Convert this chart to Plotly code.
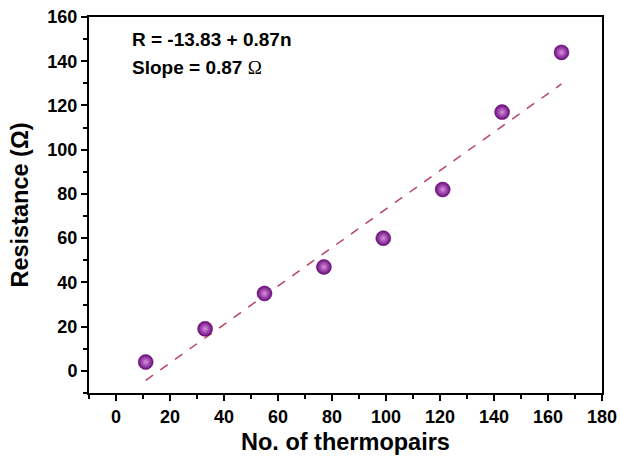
import plotly.graph_objects as go

thermopairs = [11, 33, 55, 77, 99, 121, 143, 165]
resistance = [4, 19, 35, 47, 60, 82, 117, 144]
intercept = -13.83
slope = 0.87
fit_x = [thermopairs[0], thermopairs[-1]]
fit_y = [intercept + slope * v for v in fit_x]

FONT = "Liberation Sans, Arial, sans-serif"

fig = go.Figure()
fig.add_trace(go.Scatter(
    x=fit_x, y=fit_y, mode="lines",
    line=dict(color="#b8465e", width=1.5, dash="dash"),
    showlegend=False, hoverinfo="skip"))
fig.add_trace(go.Scatter(
    x=thermopairs, y=resistance, mode="markers",
    marker=dict(size=15, color="#6a0a7c",
                gradient=dict(type="radial", color="#d890e0"),
                line=dict(width=0.5, color="#5a0468")),
    showlegend=False))

axis_common = dict(
    showline=True, linecolor="black", linewidth=2, mirror=True,
    ticks="outside", ticklen=6, tickwidth=2, tickcolor="black",
    showgrid=False, zeroline=False, ticklabeloverflow="allow",
    automargin=False,
    tickfont=dict(family=FONT, size=18, color="black", weight="bold"),
    minor=dict(ticks="outside", ticklen=4, tickwidth=2, tickcolor="black"),
)

fig.update_xaxes(range=[-10, 180], tickvals=list(range(0, 181, 20)),
                 minor_dtick=10,
                 title=dict(text="No. of thermopairs", standoff=8,
                            font=dict(family=FONT, size=23.5, color="black", weight="bold")),
                 **axis_common)
fig.update_yaxes(range=[-10, 160], tickvals=list(range(0, 161, 20)),
                 minor_dtick=10,
                 title=dict(text="Resistance (Ω)", standoff=12,
                            font=dict(family=FONT, size=23.5, color="black", weight="bold")),
                 **axis_common)

fig.add_annotation(xref="paper", yref="paper", x=0.08, y=0.939, xanchor="left", yanchor="middle",
                   text="R = -13.83 + 0.87n", showarrow=False,
                   font=dict(family=FONT, size=19, color="black", weight="bold"))
fig.add_annotation(xref="paper", yref="paper", x=0.08, y=0.866, xanchor="left", yanchor="middle",
                   text="Slope = 0.87 <span style='font-weight:normal;font-family:Liberation Serif'>Ω</span>", showarrow=False,
                   font=dict(family=FONT, size=19, color="black", weight="bold"))

fig.update_layout(
    width=620, height=461,
    margin=dict(l=89, r=18, t=17, b=68),
    plot_bgcolor="white", paper_bgcolor="white",
)

fig.write_html("out.html",
               config={"displayModeBar": False},
               post_script="document.body.style.margin='0';document.body.style.overflow='hidden';")
